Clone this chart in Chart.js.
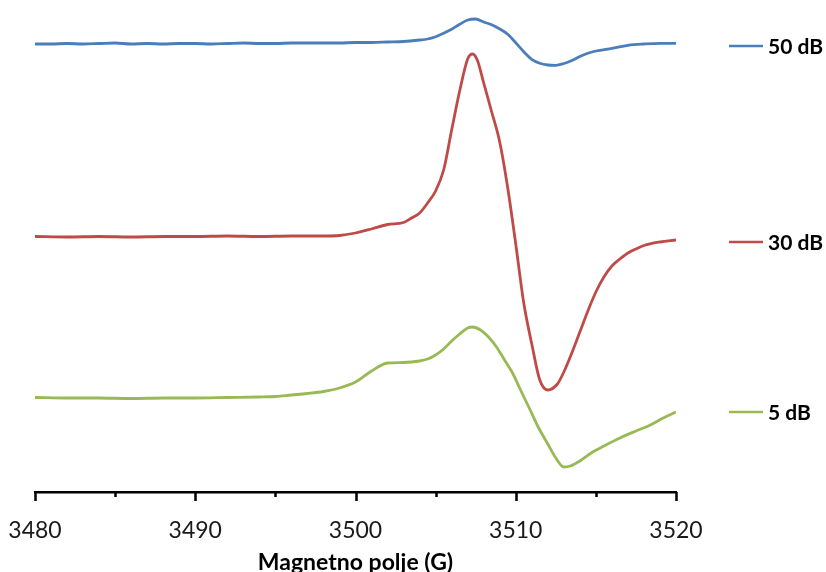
<!DOCTYPE html>
<html>
<head>
<meta charset="utf-8">
<script src="https://cdn.jsdelivr.net/npm/chart.js@4.4.1/dist/chart.umd.min.js"></script>
<style>
  html, body { margin: 0; padding: 0; background: #fff; }
  #wrap { width: 826px; height: 572px; }
</style>
</head>
<body>
<div id="wrap"><canvas id="eprChart"></canvas></div>
<script>
// Field values (G) and signal (a.u.)
const field50 = [3480, 3481, 3482, 3483, 3484, 3485, 3486, 3487, 3488, 3489, 3490, 3491, 3492, 3493, 3494, 3495, 3496, 3497, 3498, 3499,
  3500, 3501, 3502, 3503, 3504, 3504.5, 3505, 3505.5, 3506, 3506.5, 3507, 3507.5, 3508, 3508.5, 3509, 3509.5, 3510, 3510.5,
  3511, 3511.5, 3512, 3512.5, 3513, 3513.5, 3514, 3514.5, 3515, 3516, 3517, 3518, 3519, 3520];
const signal50 = [448, 448, 448.5, 448, 448.5, 449, 448, 448.5, 448, 448.5, 448.5, 448, 448.5, 449, 448.5, 448.5, 449, 449, 449, 449,
  449.5, 449.5, 450, 450.5, 452, 453, 455.3, 458.7, 462.7, 467.7, 472, 473, 470, 467.3, 463, 457.7, 449.3, 440.3,
  432.7, 428.7, 427, 426.7, 428.5, 431.5, 435.5, 438.7, 441, 443.7, 446.7, 448, 448.7, 448.7];

const field30 = [3480, 3482, 3484, 3486, 3488, 3490, 3492, 3494, 3496, 3498, 3499, 3500, 3501, 3502, 3503, 3503.5, 3504, 3504.5,
  3505, 3505.5, 3506, 3506.5, 3507, 3507.3, 3507.6, 3508, 3508.5, 3509, 3509.5, 3510, 3510.5, 3511, 3511.5, 3512, 3512.6,
  3513, 3513.5, 3514, 3514.5, 3515, 3515.5, 3516, 3516.5, 3517, 3517.5, 3518, 3519, 3520];
const signal30 = [255.5, 255, 255.5, 255, 255.5, 255.5, 256, 255.5, 256, 256, 256.5, 259, 263, 267.5, 269.5, 274, 279, 289,
  301, 322, 362, 401, 433, 438, 432, 409, 380, 350, 304, 248, 189, 148, 112, 102, 108,
  120, 139, 160, 181, 200, 215, 226, 233, 239, 243, 246.5, 250, 252];

const field5 = [3480, 3482, 3484, 3486, 3488, 3490, 3492, 3494, 3495, 3496, 3497, 3498, 3499, 3500, 3501, 3502, 3503, 3504, 3504.5,
  3505, 3505.5, 3506, 3506.5, 3507, 3507.3, 3507.8, 3508.3, 3508.8, 3509.3, 3509.8, 3510.3, 3510.9, 3511.4, 3512, 3512.5,
  3513, 3513.4, 3514, 3514.8, 3515.5, 3516.5, 3517.5, 3518.4, 3519.2, 3520];
const signal5 = [94.5, 94, 94, 93.5, 94, 94, 94.5, 95, 95.5, 97, 98.5, 100.5, 104, 110, 121, 129, 129.5, 131, 133,
  137, 143, 151, 158, 164, 165, 162, 155, 145, 132, 119, 102, 82, 65, 48, 34,
  25, 26, 31, 40, 46, 54, 61, 67, 74, 80];

const seriesNames = ["50 dB", "30 dB", "5 dB"];
const seriesColors = ["#4a7ebb", "#be4b48", "#98b954"];
const fieldTicks = [3480, 3485, 3490, 3495, 3500, 3505, 3510, 3515, 3520];

const FONT = "Lato, 'Open Sans', sans-serif";

function toPoints(xs, ys) {
  return xs.map((x, i) => ({ x: x, y: ys[i] }));
}

// Tick marks (long at labelled ticks, short in between) and the side legend
const axisDecor = {
  id: "axisDecor",
  afterDraw(chart) {
    const ctx = chart.ctx;
    const xs = chart.scales.x;
    const yBase = chart.chartArea.bottom;
    ctx.save();
    ctx.strokeStyle = "#000";
    ctx.lineWidth = 2.5;
    fieldTicks.forEach(v => {
      const px = Math.round(xs.getPixelForValue(v)) + 0.5;
      const len = v % 10 === 0 ? 9 : 5;
      ctx.beginPath();
      ctx.moveTo(px, yBase);
      ctx.lineTo(px, yBase + len);
      ctx.stroke();
    });

    const rows = [46, 242, 412];
    ctx.font = "bold 21px " + FONT;
    ctx.textBaseline = "middle";
    ctx.textAlign = "left";
    rows.forEach((y, i) => {
      ctx.strokeStyle = seriesColors[i];
      ctx.lineWidth = 2.5;
      ctx.beginPath();
      ctx.moveTo(729, y);
      ctx.lineTo(763, y);
      ctx.stroke();
      ctx.fillStyle = "#000";
      ctx.fillText(seriesNames[i], 768, y + 1);
    });
    ctx.restore();
  }
};

const ds = (xs, ys, i) => ({
  label: seriesNames[i],
  data: toPoints(xs, ys),
  borderColor: seriesColors[i],
  borderWidth: 2.8,
  pointRadius: 0,
  cubicInterpolationMode: "monotone",
  fill: false
});

new Chart(document.getElementById("eprChart"), {
  type: "line",
  data: {
    datasets: [
      ds(field50, signal50, 0),
      ds(field30, signal30, 1),
      ds(field5, signal5, 2)
    ]
  },
  options: {
    responsive: true,
    maintainAspectRatio: false,
    animation: false,
    layout: { padding: { left: 35, right: 150, top: 12, bottom: 0 } },
    plugins: { legend: { display: false }, tooltip: { enabled: false } },
    scales: {
      x: {
        type: "linear",
        min: 3480,
        max: 3520,
        afterBuildTicks(scale) {
          scale.ticks = fieldTicks.map(v => ({ value: v }));
        },
        afterFit(scale) {
          scale.height = 80;
          scale.paddingLeft = 0;
          scale.paddingRight = 0;
        },
        grid: { display: false },
        border: { display: true, color: "#000", width: 2.5 },
        ticks: {
          autoSkip: false,
          maxRotation: 0,
          padding: 17,
          color: "#1a1a1a",
          font: { family: FONT, size: 23 },
          callback: v => (v % 10 === 0 ? String(v) : "")
        },
        title: {
          display: true,
          text: "Magnetno polje (G)",
          color: "#000",
          font: { family: FONT, size: 23, weight: "bold" },
          padding: { top: 0, bottom: -4 }
        }
      },
      y: {
        display: false,
        min: 0,
        max: 480
      }
    }
  },
  plugins: [axisDecor]
});
</script>
</body>
</html>
